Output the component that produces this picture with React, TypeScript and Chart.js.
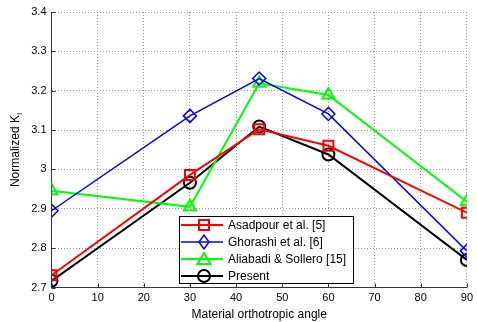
import React, { useEffect, useRef } from "react";
import { Chart, registerables } from "chart.js";

Chart.register(...registerables);

const angles = [0, 30, 45, 60, 90];
const asadpour = [2.731, 2.986, 3.102, 3.06, 2.89];
const ghorashi = [2.895, 3.136, 3.231, 3.141, 2.793];
const aliabadi = [2.946, 2.905, 3.219, 3.189, 2.918];
const present = [2.717, 2.966, 3.109, 3.038, 2.77];
const seriesNames = ["Asadpour et al. [5]", "Ghorashi et al. [6]", "Aliabadi & Sollero [15]", "Present"];
const xTitle = "Material orthotropic angle";
const yTitle = "Normalized K";
const yTitleSub = "I";

const FONT = "Liberation Sans, Arial, sans-serif";

function drawMarker(ctx: CanvasRenderingContext2D, style: string, x: number, y: number) {
  ctx.beginPath();
  if (style === "rect") {
    ctx.rect(x - 5, y - 5, 10, 10);
  } else if (style === "rectRot") {
    ctx.moveTo(x, y - 7);
    ctx.lineTo(x + 5, y);
    ctx.lineTo(x, y + 7);
    ctx.lineTo(x - 5, y);
    ctx.closePath();
  } else if (style === "triangle") {
    ctx.moveTo(x, y - 6);
    ctx.lineTo(x + 6.5, y + 5);
    ctx.lineTo(x - 6.5, y + 5);
    ctx.closePath();
  } else {
    ctx.arc(x, y, 6, 0, Math.PI * 2);
  }
  ctx.stroke();
}

const ticksPlugin = {
  id: "inwardTicks",
  beforeDatasetsDraw(chart: any) {
    const ctx: CanvasRenderingContext2D = chart.ctx;
    const xs = chart.scales.x;
    const ys = chart.scales.y;
    const { left, bottom } = chart.chartArea;
    ctx.save();
    ctx.strokeStyle = "#333333";
    ctx.lineWidth = 1;
    ctx.beginPath();
    xs.ticks.forEach((t: any) => {
      const px = Math.round(xs.getPixelForValue(t.value)) + 0.5;
      ctx.moveTo(px, bottom);
      ctx.lineTo(px, bottom - 4);
    });
    ys.ticks.forEach((t: any) => {
      const py = Math.round(ys.getPixelForValue(t.value)) + 0.5;
      ctx.moveTo(left, py);
      ctx.lineTo(left + 4, py);
    });
    ctx.stroke();
    ctx.restore();
  },
};

const legendPlugin = {
  id: "customLegend",
  afterDraw(chart: any) {
    const ctx: CanvasRenderingContext2D = chart.ctx;
    const left = 179.5, top = 216.5, w = 174, h = 67;
    ctx.save();
    ctx.fillStyle = "#ffffff";
    ctx.fillRect(left, top, w, h);
    ctx.strokeStyle = "#000000";
    ctx.lineWidth = 1;
    ctx.strokeRect(left, top, w, h);
    chart.data.datasets.forEach((ds: any, i: number) => {
      const y = 225 + i * 17;
      ctx.strokeStyle = ds.borderColor;
      ctx.lineWidth = ds.borderWidth;
      ctx.beginPath();
      ctx.moveTo(181, y);
      ctx.lineTo(223, y);
      ctx.stroke();
      ctx.lineWidth = ds.pointBorderWidth;
      drawMarker(ctx, ds.pointStyle, 204, y);
      ctx.fillStyle = "#000";
      ctx.font = `12px ${FONT}`;
      ctx.textBaseline = "middle";
      ctx.textAlign = "left";
      ctx.fillText(ds.label, 228, y + 0.5);
    });
    ctx.save();
    ctx.translate(19, 150);
    ctx.rotate(-Math.PI / 2);
    ctx.font = `12px ${FONT}`;
    const w1 = ctx.measureText(yTitle).width;
    ctx.font = `8px ${FONT}`;
    const w2 = ctx.measureText(yTitleSub).width;
    const start = -(w1 + w2) / 2;
    ctx.fillStyle = "#000";
    ctx.textBaseline = "alphabetic";
    ctx.textAlign = "left";
    ctx.font = `12px ${FONT}`;
    ctx.fillText(yTitle, start, 0);
    ctx.font = `8px ${FONT}`;
    ctx.fillText(yTitleSub, start + w1, 3);
    ctx.restore();
    ctx.restore();
  },
};

export default function App() {
  const ref = useRef<HTMLCanvasElement | null>(null);
  useEffect(() => {
    document.body.style.margin = "0";
    const mk = (vals: number[]) => angles.map((a, i) => ({ x: a, y: vals[i] }));
    const styles = [
      { color: "#ff0000", style: "rect", r: 7, bw: 2 },
      { color: "#0000ff", style: "rectRot", r: 6.5, bw: 1.5 },
      { color: "#00ff00", style: "triangle", r: 7, bw: 2 },
      { color: "#000000", style: "circle", r: 6, bw: 2 },
    ];
    const all = [asadpour, ghorashi, aliabadi, present];
    const chart = new Chart(ref.current!, {
      type: "line",
      data: {
        datasets: all.map((vals, i) => ({
          label: seriesNames[i],
          data: mk(vals),
          borderColor: styles[i].color,
          borderWidth: styles[i].bw,
          pointStyle: styles[i].style as any,
          pointRadius: styles[i].r,
          pointBorderWidth: styles[i].bw,
          pointBorderColor: styles[i].color,
          pointBackgroundColor: "rgba(0,0,0,0)",
          tension: 0,
          fill: false,
        })),
      },
      options: {
        animation: false,
        responsive: false,
        maintainAspectRatio: false,
        layout: { padding: { top: 12, right: 6, left: 0, bottom: 0 } },
        plugins: { legend: { display: false }, tooltip: { enabled: false } },
        scales: {
          x: {
            type: "linear",
            min: 0,
            max: 90,
            ticks: { stepSize: 10, color: "#000", font: { family: FONT, size: 11 }, padding: 4, maxRotation: 0 },
            grid: { color: "#9a9a9a", drawTicks: false, lineWidth: 1 },
            border: { display: true, color: "#333333", width: 1, dash: [1, 2] },
            title: { display: true, text: xTitle, color: "#000", font: { family: FONT, size: 12 }, padding: { top: 0, bottom: 0 } },
            afterFit: (s: any) => { s.height = 34.5; },
          },
          y: {
            min: 2.7,
            max: 3.4,
            ticks: {
              stepSize: 0.1,
              color: "#000",
              font: { family: FONT, size: 11 },
              padding: 5,
              callback: (v: any) => String(Number(Number(v).toFixed(1))),
            },
            grid: { color: "#9a9a9a", drawTicks: false, lineWidth: 1 },
            border: { display: true, color: "#333333", width: 1, dash: [1, 2] },
            afterFit: (s: any) => { s.width = 51.5; },
          },
        },
      },
      plugins: [ticksPlugin, legendPlugin],
    });
    return () => chart.destroy();
  }, []);
  return <canvas ref={ref} width={477} height={322} style={{ display: "block" }} />;
}
